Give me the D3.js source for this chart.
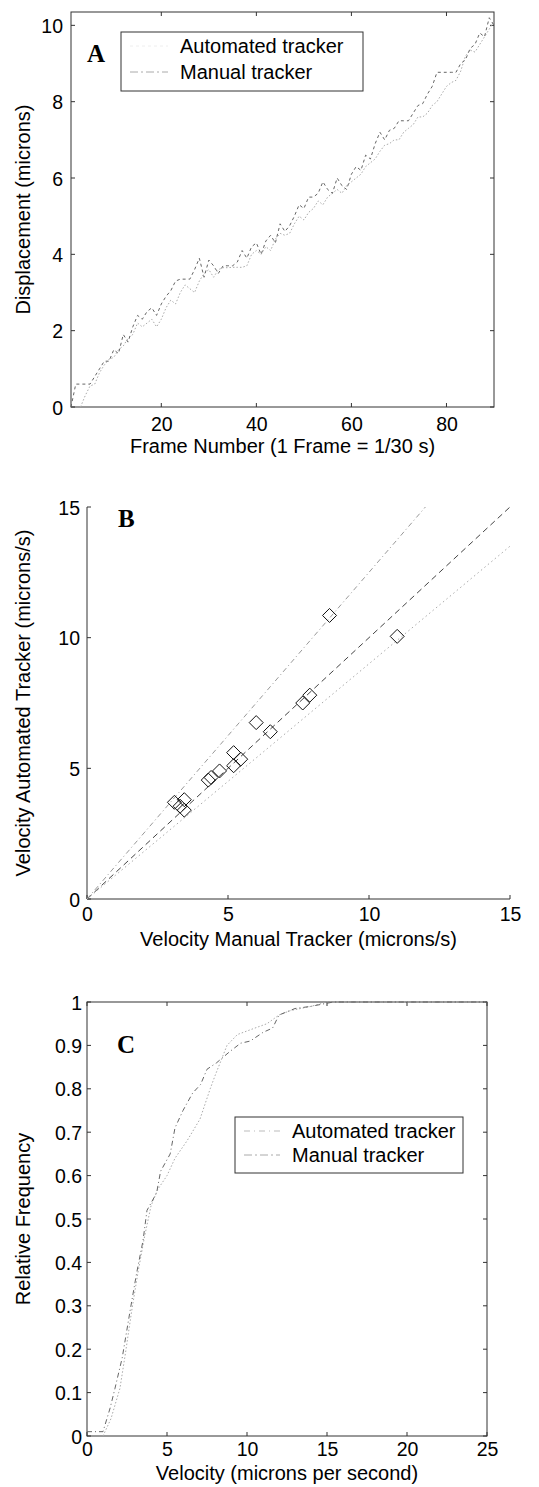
<!DOCTYPE html>
<html><head><meta charset="utf-8">
<script src="https://cdn.jsdelivr.net/npm/d3@7/dist/d3.min.js"></script>
<style>
html,body{margin:0;padding:0;background:#fff;}
svg text{font-family:"Liberation Sans",Arial,sans-serif;fill:#000;}
</style></head>
<body>
<svg id="chart" width="539" height="1487"></svg>
<script>
// ---------- Panel A data ----------
const framesA = d3.range(1, 91);
const autoDisp = [0,0.6,0.6,0.6,0.6,0.8,1.0,1.2,1.2,1.5,1.4,1.9,1.7,2.1,2.4,2.3,2.5,2.6,2.4,2.7,
  2.9,3.05,3.3,3.35,3.35,3.35,3.6,3.9,3.4,3.85,3.7,3.5,3.7,3.7,3.7,3.8,4.1,3.9,4.2,4.3,
  4.0,4.35,4.5,4.3,4.8,4.6,4.75,5.0,5.3,5.2,5.5,5.5,5.6,5.9,5.7,5.6,6.0,5.8,5.7,6.1,
  6.3,6.2,6.6,6.5,6.9,7.2,7.0,7.25,7.3,7.5,7.5,7.5,7.7,7.9,7.95,8.2,8.4,8.77,8.77,8.77,
  8.77,8.77,9.0,9.1,9.4,9.5,9.8,9.7,10.2,10.0];
const manualDisp = [null,null,0,0.3,0.55,0.6,0.9,1.1,1.25,1.3,1.5,1.6,1.8,1.9,2.2,2.1,2.2,2.3,2.1,2.3,
  2.6,2.8,2.7,3.0,3.2,3.1,3.0,3.3,3.5,3.6,3.4,3.6,3.65,3.65,3.66,3.66,3.66,3.7,4.0,4.1,
  4.0,4.2,4.1,4.4,4.55,4.5,4.55,4.8,5.0,4.9,5.1,5.2,5.4,5.3,5.5,5.6,5.7,5.6,5.8,5.9,
  6.0,6.1,6.3,6.4,6.5,6.7,6.86,6.9,7.0,7.0,7.2,7.3,7.4,7.6,7.6,7.7,7.9,8.0,8.2,8.4,
  8.5,8.56,8.8,9.2,9.35,9.3,9.5,9.7,9.9,10.1];
const ticksAx = [20,40,60,80];
const ticksAy = [0,2,4,6,8,10];

// ---------- Panel B data ----------
const velManual = [3.1,3.3,3.45,3.45,4.3,4.4,4.7,5.2,5.2,5.45,6.0,6.5,7.65,7.9,8.6,11.0];
const velAuto   = [3.7,3.55,3.8,3.4,4.55,4.65,4.9,5.6,5.1,5.35,6.75,6.4,7.5,7.8,10.85,10.05];
const refLines = [ {name:"identity", slope:1.0, xmax:15}, {name:"upper", slope:1.25, xmax:12}, {name:"lower", slope:0.9, xmax:15} ];
const ticksB = [0,5,10,15];

// ---------- Panel C data ----------
const cdfAutoV = [0,1.0,1.45,1.75,2.2,2.7,3.1,3.5,3.75,4.35,4.6,5.2,5.5,6.0,6.6,7.1,7.5,8.1,8.9,9.6,10.2,11.0,11.6,12.0,13.0,14.0,15.4,25];
const cdfAutoF = [0.01,0.01,0.065,0.11,0.18,0.29,0.375,0.45,0.52,0.56,0.61,0.65,0.71,0.75,0.79,0.81,0.845,0.86,0.885,0.905,0.91,0.93,0.94,0.97,0.985,0.99,1.0,1.0];
const cdfManV = [1.0,1.5,2.06,2.4,2.8,3.2,3.6,4.0,4.4,5.0,5.5,6.25,7.06,7.7,8.0,8.75,9.4,10.5,11.25,12.0,12.7,14.0,15.0,25];
const cdfManF = [0.0,0.04,0.11,0.19,0.29,0.38,0.46,0.53,0.567,0.6,0.64,0.68,0.73,0.8,0.83,0.9,0.925,0.94,0.95,0.97,0.98,0.99,1.0,1.0];
const ticksCx = [0,5,10,15,20,25];
const ticksCy = [0,0.1,0.2,0.3,0.4,0.5,0.6,0.7,0.8,0.9,1];

const legendLabels = ["Automated tracker","Manual tracker"];

const svg = d3.select("#chart");
const AXC = "#333";
const FS = 19.5;   // tick labels
const FT = 20;     // axis titles / legend

function frame(x, y, xt, yt, opts){
  const g = svg.append("g");
  const [x0,x1] = x.range(), [y0,y1] = y.range();
  const tl = 4;
  if(opts.box){
    g.append("rect").attr("x",x0).attr("y",y1).attr("width",x1-x0).attr("height",y0-y1)
      .attr("fill","none").attr("stroke",AXC).attr("stroke-width",1);
  } else {
    g.append("line").attr("x1",x0).attr("x2",x0).attr("y1",y0).attr("y2",y1).attr("stroke",AXC);
    g.append("line").attr("x1",x0).attr("x2",x1).attr("y1",y0).attr("y2",y0).attr("stroke",AXC);
  }
  const bx = d3.axisBottom(x).tickValues(xt).tickSize(0).tickPadding(0).tickFormat(opts.xfmt||d3.format("d"));
  const gb = g.append("g").attr("transform",`translate(0,${y0})`).call(bx);
  gb.select(".domain").remove();
  gb.selectAll("text").attr("font-size",FS).attr("dy",null).attr("y",opts.xLabY);
  const ly = d3.axisLeft(y).tickValues(yt).tickSize(0).tickPadding(0).tickFormat(opts.yfmt||d3.format("d"));
  const gl = g.append("g").attr("transform",`translate(${x0},0)`).call(ly);
  gl.select(".domain").remove();
  gl.selectAll("text").attr("font-size",FS).attr("x",-opts.yLabDx).attr("dy","0.36em");
  const tk = g.append("g").attr("stroke",AXC);
  xt.forEach(v=>{
    const px = x(v);
    tk.append("line").attr("x1",px).attr("x2",px).attr("y1",y0).attr("y2",y0-tl);
    if(opts.box) tk.append("line").attr("x1",px).attr("x2",px).attr("y1",y1).attr("y2",y1+tl);
  });
  yt.forEach(v=>{
    const py = y(v);
    tk.append("line").attr("x1",x0).attr("x2",x0+tl).attr("y1",py).attr("y2",py);
    if(opts.box) tk.append("line").attr("x1",x1).attr("x2",x1-tl).attr("y1",py).attr("y2",py);
  });
  g.append("text").attr("font-size",FT).attr("text-anchor","middle")
    .attr("x",(x0+x1)/2).attr("y",opts.xTitleY).text(opts.xTitle);
  g.append("text").attr("font-size",FT).attr("text-anchor","middle")
    .attr("transform",`translate(${opts.yTitleX},${(y0+y1)/2}) rotate(-90)`).text(opts.yTitle);
  g.append("text").attr("x",opts.letterX).attr("y",opts.letterY)
    .style("font-family","'Liberation Serif','Times New Roman',serif").attr("font-weight","bold")
    .attr("font-size",25).text(opts.letter);
  return g;
}

function legend(bx, by, bw, bh, styles, textX, rowY){
  const g = svg.append("g");
  g.append("rect").attr("x",bx).attr("y",by).attr("width",bw).attr("height",bh)
    .attr("fill","#fff").attr("stroke",AXC).attr("stroke-width",1);
  legendLabels.forEach((t,i)=>{
    g.append("line").attr("x1",bx+9).attr("x2",textX-12).attr("y1",rowY[i]-7).attr("y2",rowY[i]-7)
      .attr("stroke",styles[i].c).attr("stroke-dasharray",styles[i].d).attr("stroke-width",1);
    g.append("text").attr("x",textX).attr("y",rowY[i]).attr("font-size",FT).text(t);
  });
}

// ================= Panel A =================
const xA = d3.scaleLinear().domain([1,90]).range([71,494]);
const yA = d3.scaleLinear().domain([0,10.35]).range([407,12]);
frame(xA, yA, ticksAx, ticksAy, {box:true, xLabY:24, yLabDx:8,
  xTitle:"Frame Number (1 Frame = 1/30 s)", xTitleY:453, yTitle:"Displacement (microns)", yTitleX:30,
  letter:"A", letterX:87, letterY:62});
const lineA = d3.line().defined(d=>d[1]!=null).x(d=>xA(d[0])).y(d=>yA(d[1]));
const styleAuto = {c:"#666", d:"3,3"}, styleMan = {c:"#aaa", d:"1.5,2"};
svg.append("path").datum(framesA.map((f,i)=>[f,manualDisp[i]])).attr("d",lineA)
  .attr("fill","none").attr("stroke",styleMan.c).attr("stroke-dasharray",styleMan.d);
svg.append("path").datum(framesA.map((f,i)=>[f,autoDisp[i]])).attr("d",lineA)
  .attr("fill","none").attr("stroke",styleAuto.c).attr("stroke-dasharray",styleAuto.d);
legend(121, 32, 242, 59, [{c:"#eee",d:"3,3"}, {c:"#aaa", d:"8,3,2,3"}], 180, [53, 79]);

// ================= Panel B =================
const xB = d3.scaleLinear().domain([0,15]).range([87,510]);
const yB = d3.scaleLinear().domain([0,15]).range([899,507]);
frame(xB, yB, ticksB, ticksB, {box:false, xLabY:22, yLabDx:7,
  xTitle:"Velocity Manual Tracker (microns/s)", xTitleY:946, yTitle:"Velocity Automated Tracker (microns/s)", yTitleX:30,
  letter:"B", letterX:118, letterY:527});
const refStyle = {identity:{c:"#444",d:"6,4"}, upper:{c:"#999",d:"5,3,1,3"}, lower:{c:"#aaa",d:"1.5,3"}};
refLines.forEach(r=>{
  svg.append("line").attr("x1",xB(0)).attr("y1",yB(0)).attr("x2",xB(r.xmax)).attr("y2",yB(r.slope*r.xmax))
    .attr("stroke",refStyle[r.name].c).attr("stroke-dasharray",refStyle[r.name].d).attr("stroke-width",1);
});
const dm = 7;
svg.append("g").selectAll("path").data(velManual.map((v,i)=>[v,velAuto[i]])).join("path")
  .attr("d",d=>{const cx=xB(d[0]), cy=yB(d[1]); return `M${cx},${cy-dm}L${cx+dm},${cy}L${cx},${cy+dm}L${cx-dm},${cy}Z`;})
  .attr("fill","none").attr("stroke","#111").attr("stroke-width",1);

// ================= Panel C =================
const xC = d3.scaleLinear().domain([0,25]).range([87,487]);
const yC = d3.scaleLinear().domain([0,1]).range([1436,1002]);
frame(xC, yC, ticksCx, ticksCy, {box:true, xLabY:20, yLabDx:5,
  yfmt:d=> (d===0||d===1) ? String(d) : d.toFixed(1),
  xTitle:"Velocity (microns per second)", xTitleY:1480, yTitle:"Relative Frequency", yTitleX:30,
  letter:"C", letterX:117, letterY:1053});
const lineC = d3.line().x(d=>xC(d[0])).y(d=>yC(d[1]));
const styleAutoC = {c:"#666", d:"5,3,1,3"}, styleManC = {c:"#aaa", d:"1.5,2"};
svg.append("path").datum(cdfManV.map((v,i)=>[v,cdfManF[i]])).attr("d",lineC)
  .attr("fill","none").attr("stroke",styleManC.c).attr("stroke-dasharray",styleManC.d);
svg.append("path").datum(cdfAutoV.map((v,i)=>[v,cdfAutoF[i]])).attr("d",lineC)
  .attr("fill","none").attr("stroke",styleAutoC.c).attr("stroke-dasharray",styleAutoC.d);
legend(235, 1117, 228, 56, [{c:"#bbb",d:"6,4,1,4"}, {c:"#aaa", d:"8,3,2,3"}], 292, [1138, 1162]);
</script>
</body></html>
